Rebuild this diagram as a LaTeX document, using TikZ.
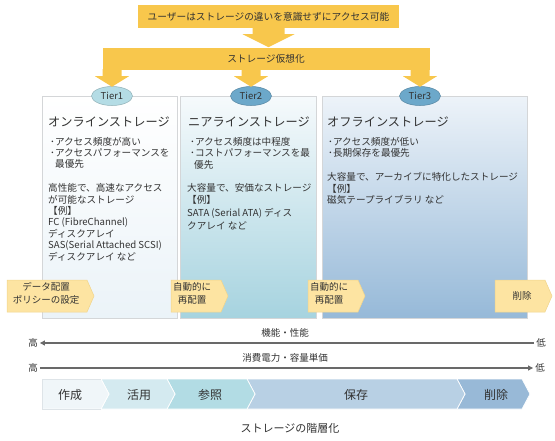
\documentclass[tikz,border=0pt]{standalone}
\usepackage{fontspec}
\setmainfont{Noto Sans CJK JP}
\usetikzlibrary{shapes.geometric,arrows.meta,calc}
\definecolor{gold}{RGB}{248,199,76}
\definecolor{chev}{RGB}{253,228,162}
\definecolor{chevline}{RGB}{240,212,140}
\definecolor{txt}{RGB}{50,50,50}
\definecolor{tierA}{RGB}{180,220,229}
\definecolor{tierB}{RGB}{108,168,202}
\definecolor{boxline}{RGB}{212,214,216}
\definecolor{arrgray}{RGB}{105,105,105}
\definecolor{lcA}{RGB}{240,246,249}
\definecolor{lcB}{RGB}{212,234,240}
\definecolor{lcC}{RGB}{178,220,228}
\definecolor{lcD}{RGB}{184,208,228}
\definecolor{lcE}{RGB}{152,185,215}
\begin{document}
\begin{tikzpicture}[x=1pt,y=-1pt,
  goldbox/.style={fill=gold, inner sep=0, text=txt, font=\fontsize{9.7}{11}\selectfont},
  tierbox/.style={draw=boxline, line width=0.6pt, anchor=north west, inner sep=0},
  tierell/.style={ellipse, draw=#1!80!black, line width=0.5pt, fill=#1, minimum width=41pt, minimum height=19pt, inner sep=0, text=txt, font=\fontsize{9.5}{11}\selectfont},
  ttl/.style={anchor=west, inner sep=0, text=txt, font=\fontsize{12.2}{14}\selectfont},
  body/.style={anchor=west, inner sep=0, text=txt, font=\fontsize{9.6}{11.5}\selectfont},
  chevshape/.style={fill=chev, draw=chevline, line width=0.5pt},
  chevtext/.style={align=center, inner sep=0, text=txt, font=\fontsize{9.5}{13}\selectfont},
  axlabel/.style={inner sep=2pt, text=txt, font=\fontsize{9.5}{11}\selectfont},
  axline/.style={draw=arrgray, line width=1.1pt},
  lcseg/.style={fill=#1, draw=white, line width=0.7pt},
  lctext/.style={inner sep=0, text=txt, font=\fontsize{12}{14}\selectfont}
]
\useasboundingbox (0,0) rectangle (555,440);

% top box and arrow
\node[goldbox, minimum width=261pt, minimum height=23pt] (top) at (268.5,16.5) {ユーザーはストレージの違いを意識せずにアクセス可能};
\node[goldbox, minimum width=327pt, minimum height=22pt] (virt) at (266,59) {ストレージ仮想化};
\fill[gold] ($(top.south)+(-16,-1)$) -- ($(top.south)+(16,-1)$) -- ($(top.south)+(16,6)$) -- ($(top.south)+(26,6)$)
  -- ($(top.south)+(0,19)$) -- ($(top.south)+(-26,6)$) -- ($(top.south)+(-16,6)$) -- cycle;

% tier boxes
\node[tierbox, minimum width=135pt, minimum height=222pt, top color=white, bottom color={rgb,255:red,235;green,243;blue,248}] (box1) at (42,96) {};
\node[tierbox, minimum width=136pt, minimum height=222pt, top color={rgb,255:red,246;green,250;blue,252}, bottom color={rgb,255:red,166;green,211;blue,223}] (box2) at (180,96) {};
\node[tierbox, minimum width=205pt, minimum height=222pt, top color={rgb,255:red,237;green,243;blue,249}, bottom color={rgb,255:red,150;green,185;blue,216}] (box3) at (322,96) {};

% tier ellipses
\node[tierell=tierA] (t1) at (112,96) {Tier1};
\node[tierell=tierB] (t2) at (251,96) {Tier2};
\node[tierell=tierB] (t3) at (420,96) {Tier3};

% arms from virtualization bar to tiers
\foreach \n in {t1,t2,t3}{
  \fill[gold] (virt.south -| \n.north) ++(-9.5,-1) -- ++(19,0) -- ++(0,7) -- ++(7.5,0) -- ($(\n.north)+(0,0.5)$)
    -- ($(virt.south -| \n.north)+(-17,6)$) -- ($(virt.south -| \n.north)+(-9.5,6)$) -- cycle;
}

% Tier1 text
\node[ttl] (a0) at (48,122) {オンラインストレージ};
\node[body] (a1) at (50,142) {･アクセス頻度が高い};
\node[body] (a2) at (50,153) {･アクセスパフォーマンスを};
\node[body] (a3) at (55,164) {最優先};
\node[body] (a4) at (48,188) {高性能で、高速なアクセス};
\node[body] (a5) at (48,199.5) {が可能なストレージ};
\node[body] (a6) at (48,211) {【例】};
\node[body] (a7) at (48,222.5) {FC (FibreChannel)};
\node[body] (a8) at (48,234) {ディスクアレイ};
\node[body] (a9) at (48,245.5) {SAS(Serial Attached SCSI)};
\node[body] (a10) at (48,257) {ディスクアレイ など};

% Tier2 text
\node[ttl] (b0) at (188,122) {ニアラインストレージ};
\node[body] (b1) at (190,141.5) {･アクセス頻度は中程度};
\node[body] (b2) at (190,153) {･コストパフォーマンスを最};
\node[body] (b3) at (194,164.5) {優先};
\node[body] (b4) at (187,188) {大容量で、安価なストレージ};
\node[body] (b5) at (187,200) {【例】};
\node[body] (b6) at (187,213) {SATA (Serial ATA) ディス};
\node[body] (b7) at (187,226) {クアレイ など};

% Tier3 text
\node[ttl] (c0) at (327,122) {オフラインストレージ};
\node[body] (c1) at (328,141.5) {･アクセス頻度が低い};
\node[body] (c2) at (328,153) {･長期保存を最優先};
\node[body] (c3) at (327,177) {大容量で、アーカイブに特化したストレージ};
\node[body] (c4) at (327,188.5) {【例】};
\node[body] (c5) at (327,200) {磁気テープライブラリ など};

% yellow chevrons
\draw[chevshape] (7,280) -- (87,280) -- (94,296) -- (87,312) -- (7,312) -- cycle;
\draw[chevshape] (171,280) -- (221,280) -- (228,296) -- (221,312) -- (171,312) -- cycle;
\draw[chevshape] (308,280) -- (358,280) -- (365,296) -- (358,312) -- (308,312) -- cycle;
\draw[chevshape] (495,280) -- (545,280) -- (552,296) -- (545,312) -- (495,312) -- cycle;
\node[chevtext] (p1) at (46,293.5) {データ配置\\ポリシーの設定};
\node[chevtext] (p2) at (192,293.5) {自動的に\\再配置};
\node[chevtext] (p3) at (329,293.5) {自動的に\\再配置};
\node[chevtext] (p4) at (522,296) {削除};

% axes
\node[axlabel] (f) at (285,333) {機能・性能};
\node[axlabel] (hi1) at (33,343) {高};
\node[axlabel] (lo1) at (541,343) {低};
\draw[axline, -{Triangle[length=5pt,width=5pt]}] (lo1.west) -- (hi1.east);
\node[axlabel] (g) at (285,358) {消費電力・容量単価};
\node[axlabel] (hi2) at (33,368) {高};
\node[axlabel] (lo2) at (540,368) {低};
\draw[axline, -{Triangle[length=5pt,width=5pt]}] (hi2.east) -- (lo2.west);

% lifecycle chevrons
\draw[lcseg=lcE] (457,379) -- (522,379) -- (530,394) -- (522,409) -- (457,409) -- (465,394) -- cycle;
\draw[lcseg=lcD] (247,379) -- (457,379) -- (465,394) -- (457,409) -- (247,409) -- (255,394) -- cycle;
\draw[lcseg=lcC] (167,379) -- (247,379) -- (255,394) -- (247,409) -- (167,409) -- (175,394) -- cycle;
\draw[lcseg=lcB] (101,379) -- (167,379) -- (175,394) -- (167,409) -- (101,409) -- (109,394) -- cycle;
\draw[lcseg=lcA] (42,379) -- (101,379) -- (109,394) -- (101,409) -- (42,409) -- cycle;
\draw[draw={rgb,255:red,222;green,228;blue,232}, line width=0.5pt] (42,379) -- (101,379) (42,379) -- (42,409) -- (101,409);
\node[lctext] (l1) at (70,394.5) {作成};
\node[lctext] (l2) at (139,394.5) {活用};
\node[lctext] (l3) at (210,394.5) {参照};
\node[lctext] (l4) at (356,394.5) {保存};
\node[lctext] (l5) at (496,394.5) {削除};

\node[inner sep=0, text=txt, font=\fontsize{11}{13}\selectfont] (cap) at (290,428) {ストレージの階層化};
\end{tikzpicture}
\end{document}
